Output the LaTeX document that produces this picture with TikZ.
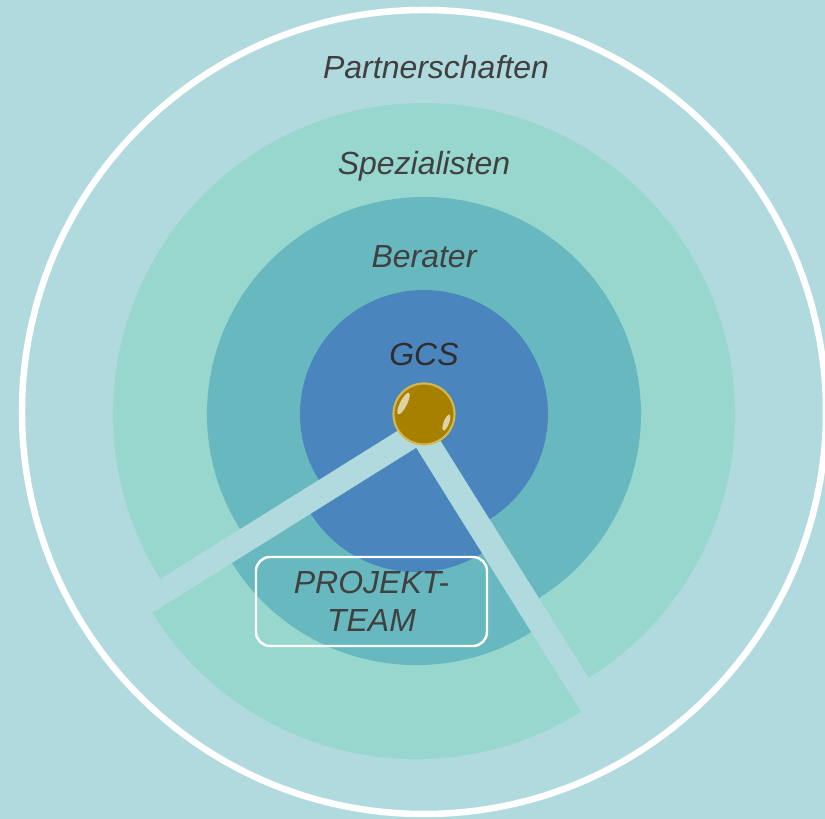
\documentclass[tikz,border=0pt]{standalone}
\usepackage{fontspec}
\setmainfont{Liberation Sans}
\usepackage{xcolor}
\usepackage{tikz}
\usetikzlibrary{positioning,calc}
\definecolor{gcsBack}{RGB}{177, 218, 222}
\definecolor{gcsSpez}{RGB}{152, 215, 206}
\definecolor{gcsBerater}{RGB}{104, 184, 191}
\definecolor{gcsCore}{RGB}{74, 134, 189}
\definecolor{gcsGold}{RGB}{168, 128, 0}
\definecolor{gcsGoldRim}{RGB}{214, 184, 80}
\definecolor{gcsText}{RGB}{64, 64, 64}
\newcommand{\ringfont}{\fontsize{18.2}{21.6}\selectfont\itshape}
\tikzset{
  ringlabel/.style={text=gcsText, font=\ringfont, anchor=base},
  teambox/.style={draw=white, line width=1.4pt, rounded corners=0.28cm,
    minimum width=4.62cm, minimum height=1.78cm, align=center,
    text=gcsText, font=\ringfont}
}

\begin{document}
\begin{tikzpicture}
        % Background and frame
        \fill[gcsBack] (-8.48,-8.10) rectangle (8.02,8.28);
        \useasboundingbox (-8.48,-8.10) rectangle (8.02,8.28);
        \clip (-8.48,-8.10) rectangle (8.02,8.28);
        % Outer white ring
        \draw[white, line width=0.13cm] (0,0.04) circle (8.04);
        % Main pie, without the project wedge
        \fill[gcsSpez] (0,0) -- (302:6.22) arc[start angle=302, end angle=572, radius=6.22] -- cycle;
        \fill[gcsBerater] (0,0) -- (302:4.34) arc[start angle=302, end angle=572, radius=4.34] -- cycle;
        \fill[gcsCore] (0,0) -- (302:2.48) arc[start angle=302, end angle=572, radius=2.48] -- cycle;
        % Project wedge, pulled out from the centre
        \begin{scope}[shift={(257:0.7)}]
            \fill[gcsSpez] (0,0) -- (212:6.22) arc[start angle=212, end angle=302, radius=6.22] -- cycle;
            \fill[gcsBerater] (0,0) -- (212:4.34) arc[start angle=212, end angle=302, radius=4.34] -- cycle;
            \fill[gcsCore] (0,0) -- (212:2.48) arc[start angle=212, end angle=302, radius=2.48] -- cycle;
        \end{scope}
        % Ring labels
        \node[ringlabel] (partner) at (0.24,6.70) {Partnerschaften};
        \node[ringlabel] (spez) at (0,4.78) {Spezialisten};
        \node[ringlabel] (berater) at (0,2.92) {Berater};
        \node[ringlabel, text=black!82] (gcs) at (0,0.97) {GCS};
        % Gold ball in the centre
        \node[circle, fill=gcsGold, draw=gcsGoldRim, line width=1.2pt, minimum size=1.22cm, inner sep=0pt] (ball) at (0,0) {};
        \fill[white, opacity=0.65, rotate around={153:(ball.center)}] ($(ball.center)+(0.46,0)$) ellipse (0.07 and 0.24);
        \fill[white, opacity=0.65, rotate around={-21:(ball.center)}] ($(ball.center)+(0.48,0)$) ellipse (0.055 and 0.17);
        % Project team box
        \node[teambox] (team) at (-1.05,-3.75) {PROJEKT-\\TEAM};
    \end{tikzpicture}
\end{document}
